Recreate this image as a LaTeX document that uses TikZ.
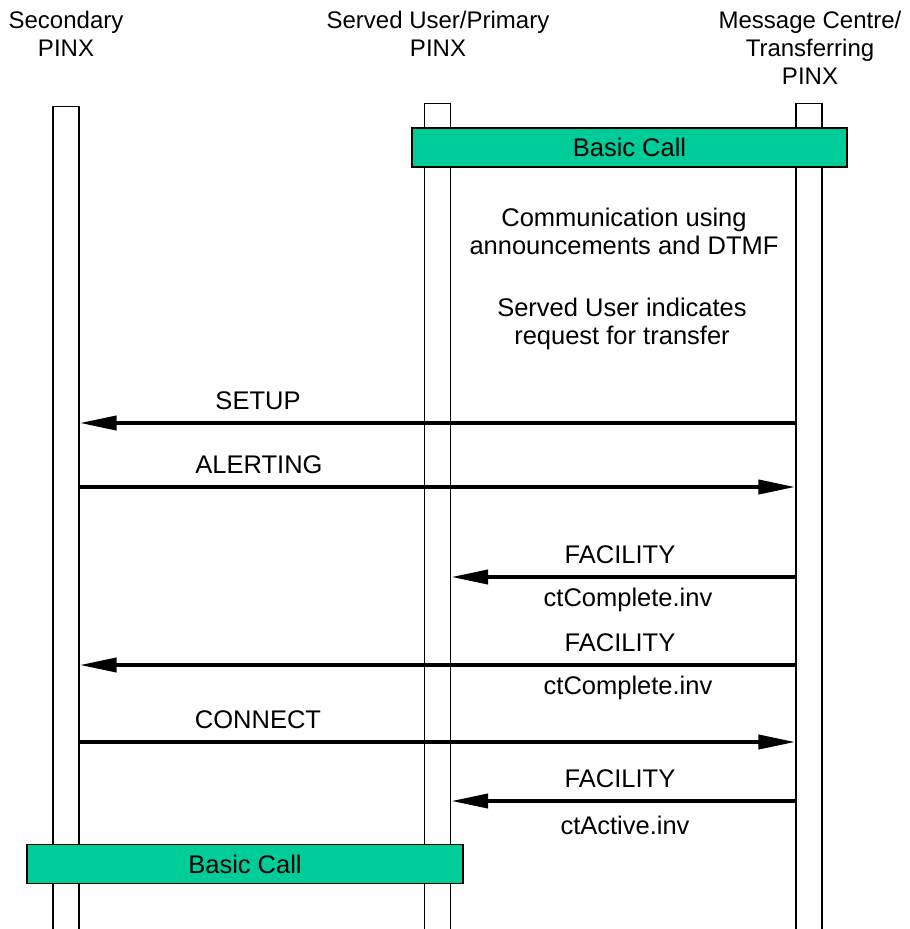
\documentclass[tikz,border=0pt]{standalone}
\usepackage{fontspec}
\setmainfont{Liberation Sans}
\usetikzlibrary{arrows.meta}
\definecolor{callgreen}{RGB}{0,204,153}
\begin{document}
\begin{tikzpicture}[x=1pt,y=-1pt,
  every node/.style={font=\fontsize{25.5}{28}\selectfont, inner sep=0pt},
  head/.style={align=center, font=\fontsize{24}{28}\selectfont},
  life/.style={draw=black, line width=1.3pt, fill=white, minimum width=26pt, anchor=north},
  callbox/.style={draw=black, line width=1.3pt, fill=callgreen, minimum height=39pt},
  msg/.style={line width=4pt, -{Triangle[length=37pt,width=14pt]}},
  lbl/.style={align=center}]
\useasboundingbox (0,0) rectangle (910,929);
% headers
\node[head] (hsec) at (66,34) {Secondary\\PINX};
\node[head] (hpri) at (438,34) {Served User/Primary\\PINX};
\node[head] (hmc) at (810,48) {Message Centre/\\Transferring\\PINX};
% lifelines
\node[life, minimum height=840pt] (sec) at (66,106) {};
\node[life, minimum height=840pt] (pri) at (437.5,103) {};
\node[life, minimum height=840pt] (mc) at (809,103) {};
% basic call boxes
\node[callbox, minimum width=435pt] (bc1) at (629.5,147.5) {Basic Call};
\node[callbox, minimum width=436pt] (bc2) at (245,864) {Basic Call};
% notes
\node[lbl] (n1) at (624,231) {Communication using\\announcements and DTMF};
\node[lbl] (n2) at (622,324) {Served User indicates\\request for transfer};
% messages
\coordinate (y1) at (0,423);
\coordinate (y2) at (0,487);
\coordinate (y3) at (0,577);
\coordinate (y4) at (0,665);
\coordinate (y5) at (0,742);
\coordinate (y6) at (0,801);
\draw[msg] (mc.west |- y1) -- (sec.east |- y1);
\draw[msg] (sec.east |- y2) -- (mc.west |- y2);
\draw[msg] (mc.west |- y3) -- (pri.east |- y3);
\draw[msg] (mc.west |- y4) -- (sec.east |- y4);
\draw[msg] (sec.east |- y5) -- (mc.west |- y5);
\draw[msg] (mc.west |- y6) -- (pri.east |- y6);
% labels
\node (l1) at (258,401) {SETUP};
\node (l2) at (259,465) {ALERTING};
\node (l3a) at (620,555) {FACILITY};
\node (l3b) at (628,600) {ctComplete.inv};
\node (l4a) at (620,643) {FACILITY};
\node (l4b) at (628,688) {ctComplete.inv};
\node (l5) at (258,720) {CONNECT};
\node (l6a) at (620,779) {FACILITY};
\node (l6b) at (625,825) {ctActive.inv};
\end{tikzpicture}
\end{document}
